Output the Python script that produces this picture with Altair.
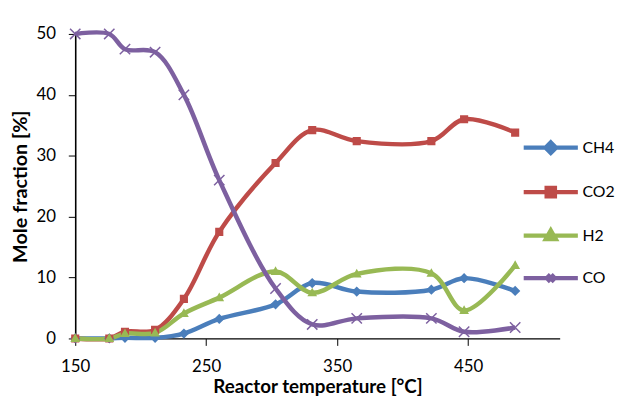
import altair as alt
import pandas as pd

temps = [150, 176, 188, 211, 233, 260, 303, 331, 365, 422, 447, 486]
ch4 = [0, 0, 0.1, 0.1, 0.8, 3.2, 5.6, 9.1, 7.7, 8.0, 9.9, 7.8]
co2 = [0, 0, 1.1, 1.4, 6.5, 17.5, 28.8, 34.2, 32.4, 32.4, 36.0, 33.8]
h2 = [0, 0, 0.8, 0.9, 4.1, 6.7, 11.0, 7.5, 10.6, 10.7, 4.6, 12.0]
co = [50, 50, 47.5, 47.0, 40.0, 26.0, 8.2, 2.3, 3.3, 3.3, 1.1, 1.8]

series_names = ["CH4", "CO2", "H2", "CO"]
colors = ["#4A7EBB", "#BE4B48", "#98B954", "#7D60A0"]

# legend symbol = line + marker (line part is zero-area, visible only when stroked)
shape_paths = [
    "M-1,0H1M0,-0.19L0.19,0L0,0.19L-0.19,0Z",
    "M-1,0H1M-0.15,-0.15H0.15V0.15H-0.15Z",
    "M-1,0H1M0,-0.19L0.18,0.13L-0.18,0.13Z",
    "M-1,0H1M-0.13,-0.13L0.13,0.13M-0.13,0.13L0.13,-0.13",
]

rows = []
for name, vals in zip(series_names, [ch4, co2, h2, co]):
    for t, v in zip(temps, vals):
        rows.append({"T": t, "v": v, "series": name})
df = pd.DataFrame(rows)

FONT = "Lato"

x = alt.X(
    "T:Q",
    scale=alt.Scale(domain=[150, 520], nice=False, zero=False),
    axis=alt.Axis(
        title="Reactor temperature [°C]",
        values=[150, 250, 350, 450],
        grid=False,
        labelFlush=False,
        domainColor="#000000",
        domainWidth=1.3,
        tickColor="#000000",
        tickSize=7,
        labelPadding=13,
        labelFontSize=17,
        labelFont=FONT,
        labelColor="#000000",
        titleFont=FONT,
        titleFontSize=19,
        titleFontWeight="bold",
        titleColor="#000000",
        titlePadding=4,
    ),
)
y = alt.Y(
    "v:Q",
    scale=alt.Scale(domain=[0, 50], nice=False),
    axis=alt.Axis(
        title="Mole fraction [%]",
        values=[0, 10, 20, 30, 40, 50],
        grid=False,
        domainColor="#000000",
        domainWidth=1.6,
        tickColor="#000000",
        tickSize=7,
        labelPadding=13,
        labelFontSize=17,
        labelFont=FONT,
        labelColor="#000000",
        titleFont=FONT,
        titleFontSize=20,
        titleFontWeight="bold",
        titleColor="#000000",
        titlePadding=6,
    ),
)

color_scale = alt.Scale(domain=series_names, range=colors)

lines = alt.Chart(df).mark_line(strokeWidth=4.5, interpolate="catmull-rom").encode(
    x=x, y=y,
    color=alt.Color("series:N", scale=color_scale, legend=None),
)

points = alt.Chart(df).mark_point(filled=True, size=3000, opacity=1).encode(
    x=x, y=y,
    fill=alt.Fill("series:N", scale=color_scale, legend=alt.Legend(
        title=None, orient="none", legendX=451, legendY=85,
        symbolSize=3000, symbolStrokeWidth=4.5,
        labelFontSize=16, labelFont=FONT, labelColor="#000000",
        rowPadding=-17, labelOffset=2,
    )),
    stroke=alt.Stroke("series:N", scale=color_scale),
    shape=alt.Shape("series:N", scale=alt.Scale(domain=series_names, range=shape_paths)),
    strokeWidth=alt.value(0),
)

co_marks = alt.Chart(df).transform_filter(alt.datum.series == "CO").mark_point(
    shape="M-1,-1L1,1M-1,1L1,-1", size=110, strokeWidth=1.5, filled=False,
    opacity=1, color=colors[3],
).encode(x=x, y=y)

chart = alt.layer(lines, points, co_marks).resolve_scale(color="independent").properties(
    width=490, height=308,
    autosize=alt.AutoSizeParams(type="none"),
    padding={"left": 68, "top": 24, "right": 60, "bottom": 58},
).configure_view(stroke=None)

chart.save("out.html", embed_options={"renderer": "svg", "actions": False})
